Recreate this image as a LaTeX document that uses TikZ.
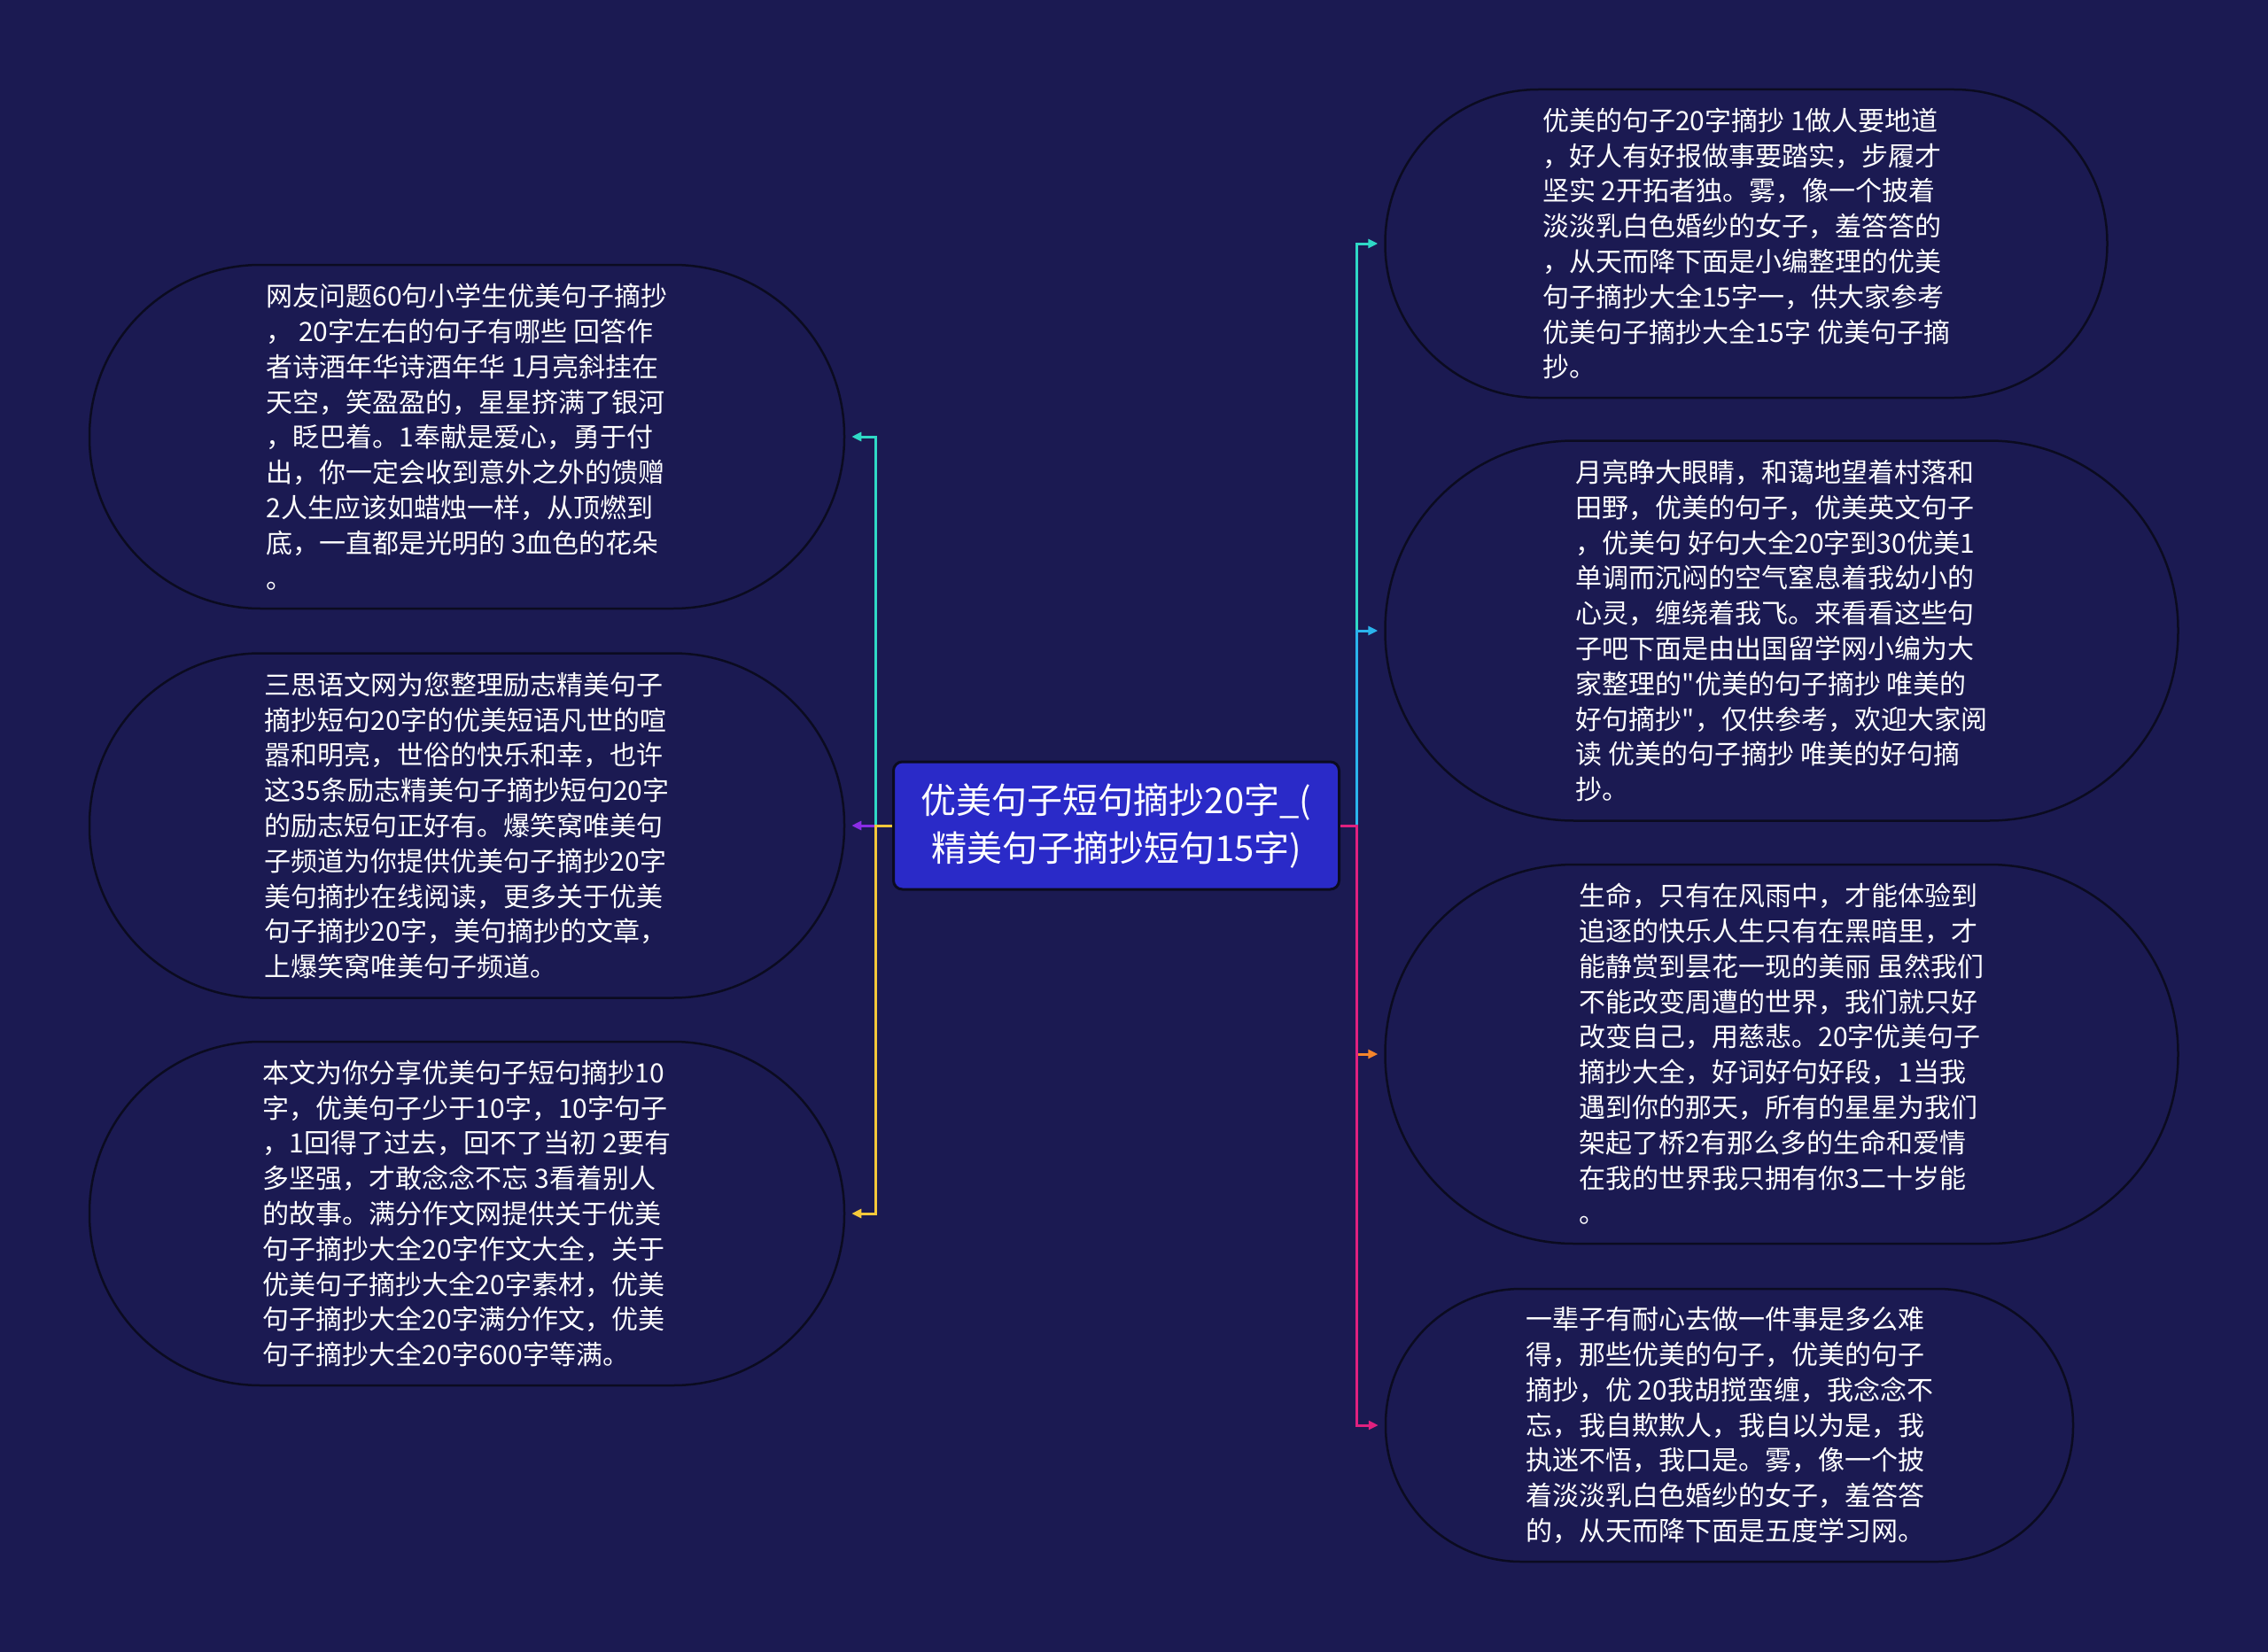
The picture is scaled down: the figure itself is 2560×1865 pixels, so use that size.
\documentclass[tikz,border=0pt]{standalone}
\usepackage{fontspec}
\setmainfont{Noto Sans CJK SC}[Ligatures=TeXOff]
\usetikzlibrary{arrows.meta}

\definecolor{bgnavy}{HTML}{1B1A52}
\definecolor{rimdark}{HTML}{0B0B20}
\definecolor{rootblue}{HTML}{2A2AC8}
\definecolor{tealline}{HTML}{2FD9C6}
\definecolor{violetline}{HTML}{8B2CE6}
\definecolor{goldline}{HTML}{F5C83A}
\definecolor{skyline}{HTML}{2AB4EC}
\definecolor{orangeline}{HTML}{F5852B}
\definecolor{pinkline}{HTML}{E0217F}

\begin{document}
\begin{tikzpicture}[x=1pt,y=-1pt,
	leaf/.style={draw=rimdark,fill=bgnavy,line width=2.5pt,text=white,align=left,font={\fontsize{30}{39.8}\selectfont}},
	link/.style={line width=3pt,-{Triangle[length=11pt,width=10pt]},shorten >=7pt}]

		\fill[bgnavy] (0,0) rectangle (2560,1865);

		\node[draw=rimdark,fill=rootblue,line width=3pt,rounded corners=10pt,minimum width=503pt,minimum height=144pt,text=white,align=center,font={\fontsize{40}{54}\selectfont}] (Root) at (1260,932) {优美句子短句摘抄20字\_(\\精美句子摘抄短句15字)};

		\node[leaf,minimum width=852pt,minimum height=388pt,rounded corners=193pt] (Netizen) at (527,493) {网友问题60句小学生优美句子摘抄\\， 20字左右的句子有哪些 回答作\\者诗酒年华诗酒年华 1月亮斜挂在\\天空，笑盈盈的，星星挤满了银河\\，眨巴着。1奉献是爱心，勇于付\\出，你一定会收到意外之外的馈赠\\2人生应该如蜡烛一样，从顶燃到\\底，一直都是光明的 3血色的花朵\\。};
		\node[leaf,minimum width=852pt,minimum height=389pt,rounded corners=193pt] (Sansi) at (527,932) {三思语文网为您整理励志精美句子\\摘抄短句20字的优美短语凡世的喧\\嚣和明亮，世俗的快乐和幸，也许\\这35条励志精美句子摘抄短句20字\\的励志短句正好有。爆笑窝唯美句\\子频道为你提供优美句子摘抄20字\\美句摘抄在线阅读，更多关于优美\\句子摘抄20字，美句摘抄的文章，\\上爆笑窝唯美句子频道。};
		\node[leaf,minimum width=852pt,minimum height=388pt,rounded corners=193pt] (Share) at (527,1370) {本文为你分享优美句子短句摘抄10\\字，优美句子少于10字，10字句子\\，1回得了过去，回不了当初 2要有\\多坚强，才敢念念不忘 3看着别人\\的故事。满分作文网提供关于优美\\句子摘抄大全20字作文大全，关于\\优美句子摘抄大全20字素材，优美\\句子摘抄大全20字满分作文，优美\\句子摘抄大全20字600字等满。};

		\node[leaf,minimum width=815pt,minimum height=348pt,rounded corners=173pt] (Mist) at (1971,275) {优美的句子20字摘抄 1做人要地道\\，好人有好报做事要踏实，步履才\\坚实 2开拓者独。雾，像一个披着\\淡淡乳白色婚纱的女子，羞答答的\\，从天而降下面是小编整理的优美\\句子摘抄大全15字一，供大家参考\\优美句子摘抄大全15字 优美句子摘\\抄。};
		\node[leaf,minimum width=895pt,minimum height=429pt,rounded corners=213pt] (Moon) at (2011,712) {月亮睁大眼睛，和蔼地望着村落和\\田野，优美的句子，优美英文句子\\，优美句 好句大全20字到30优美1\\单调而沉闷的空气窒息着我幼小的\\心灵，缠绕着我飞。来看看这些句\\子吧下面是由出国留学网小编为大\\家整理的"优美的句子摘抄 唯美的\\好句摘抄"，仅供参考，欢迎大家阅\\读 优美的句子摘抄 唯美的好句摘\\抄。};
		\node[leaf,minimum width=895pt,minimum height=428pt,rounded corners=213pt] (Life) at (2011,1190) {生命，只有在风雨中，才能体验到\\追逐的快乐人生只有在黑暗里，才\\能静赏到昙花一现的美丽 虽然我们\\不能改变周遭的世界，我们就只好\\改变自己，用慈悲。20字优美句子\\摘抄大全，好词好句好段，1当我\\遇到你的那天，所有的星星为我们\\架起了桥2有那么多的生命和爱情\\在我的世界我只拥有你3二十岁能\\。};
		\node[leaf,minimum width=776pt,minimum height=308pt,rounded corners=153pt] (Patience) at (1952,1609) {一辈子有耐心去做一件事是多么难\\得，那些优美的句子，优美的句子\\摘抄，优 20我胡搅蛮缠，我念念不\\忘，我自欺欺人，我自以为是，我\\执迷不悟，我口是。雾，像一个披\\着淡淡乳白色婚纱的女子，羞答答\\的，从天而降下面是五度学习网。};

		\coordinate (LeftBus) at (988,932);
		\coordinate (RightBus) at (1531,932);

		\draw[link,draw=tealline] (Root.west) -- (LeftBus) |- (Netizen.east);
		\draw[link,draw=violetline] (Root.west) -- (LeftBus) |- (Sansi.east);
		\draw[link,draw=goldline] (Root.west) -- (LeftBus) |- (Share.east);

		\draw[link,draw=tealline] (Root.east) -- (RightBus) |- (Mist.west);
		\draw[link,draw=skyline] (Root.east) -- (RightBus) |- (Moon.west);
		\draw[link,draw=orangeline] (Root.east) -- (RightBus) |- (Life.west);
		\draw[link,draw=pinkline] (Root.east) -- (RightBus) |- (Patience.west);
\end{tikzpicture}
\end{document}
